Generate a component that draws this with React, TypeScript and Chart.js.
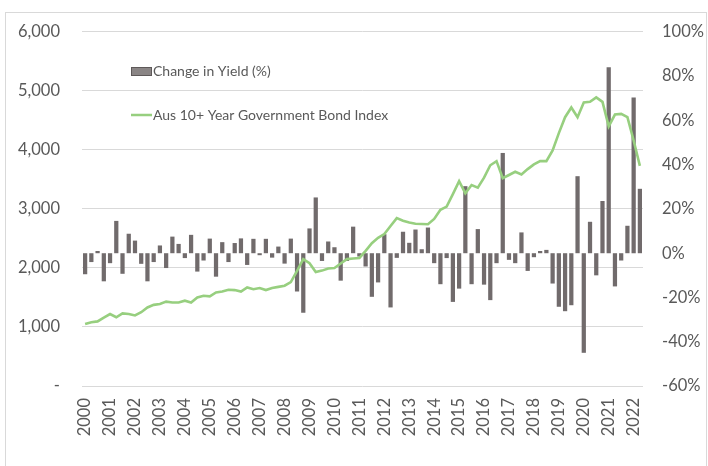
import React, { useEffect, useRef } from "react";
import { Chart, registerables } from "chart.js";

Chart.register(...registerables);

const years = [
  "2000", "2001", "2002", "2003", "2004", "2005", "2006", "2007", "2008", "2009", "2010", "2011",
  "2012", "2013", "2014", "2015", "2016", "2017", "2018", "2019", "2020", "2021", "2022",
];
const quarters = ["Q1", "Q2", "Q3", "Q4"];
const categories = years.flatMap((y) => quarters.map((q) => `${y} ${q}`)).slice(0, 90);

// Change in Yield (%), quarterly
const yieldChange = [
  -9.5, -4, 1, -12.7, -4.5, 14.6, -9.3, 8.8, 5.7, -4.8, -12.7, -4,
  3.5, -6.7, 7.5, 4.2, -2.2, 8.3, -8.3, -3.3, 6.6, -10.6, 5, -4,
  4.6, 6.7, -5.3, 6.5, -0.9, 6.5, -2, 3, -4.7, 6.6, -17.3, -26.9,
  11.2, 25.2, -3.5, 5.3, 2.7, -12.4, -3.5, 12, -1.5, -6, -19.7, -13.2,
  8.6, -24.5, -2.1, 9.7, 4.7, 10.7, 1.8, 11.6, -4.5, -14, -2.2, -22,
  -16, 30.3, -14, 10.9, -14.2, -21.2, -4.5, 45.3, -3, -4.5, 9.4, -8,
  -1.8, 1, 1.5, -13.7, -24.2, -26.2, -23.5, 34.8, -45, 14.2, -10, 23.6,
  84, -15, -3.3, 12.4, 70.4, 29.1,
];

// Aus 10+ Year Government Bond Index, quarterly
const bondIndex = [
  1050, 1080, 1095, 1160, 1220, 1165, 1230, 1220, 1195, 1250, 1330, 1375,
  1390, 1430, 1415, 1415, 1445, 1415, 1500, 1530, 1520, 1585, 1600, 1630,
  1625, 1600, 1670, 1640, 1660, 1625, 1660, 1680, 1700, 1760, 1950, 2150,
  2080, 1930, 1955, 1990, 2000, 2075, 2150, 2160, 2170, 2290, 2420, 2510,
  2575, 2710, 2845, 2800, 2770, 2750, 2745, 2740, 2830, 2985, 3040, 3250,
  3470, 3265, 3405, 3360, 3530, 3740, 3810, 3520, 3575, 3630, 3585, 3675,
  3755, 3810, 3810, 3990, 4285, 4555, 4720, 4555, 4805, 4815, 4890, 4815,
  4400, 4600, 4610, 4555, 4160, 3730,
];

const legendLabels = ["Change in Yield (%)", "Aus 10+ Year Government Bond Index"];

const BAR_COLOR = "#716b6c";
const LINE_COLOR = "#97cf7f";
const TEXT_COLOR = "#595959";
const GRID_COLOR = "#d9d9d9";
const FONT = "Lato";

const framePlugin = {
  id: "frameAndLegend",
  beforeDraw(chart: any) {
    const ctx = chart.ctx;
    ctx.save();
    ctx.fillStyle = "#ffffff";
    ctx.fillRect(0, 0, chart.width, chart.height);
    ctx.strokeStyle = GRID_COLOR;
    ctx.lineWidth = 1;
    ctx.strokeRect(5.5, 12.5, 701, 470);
    ctx.restore();
  },
  afterDraw(chart: any) {
    const ctx = chart.ctx;
    ctx.save();
    // bar swatch
    ctx.fillStyle = "#8a8585";
    ctx.strokeStyle = "#5e5959";
    ctx.lineWidth = 1;
    ctx.fillRect(131, 67, 21, 9);
    ctx.strokeRect(131.5, 67.5, 20, 8);
    // line swatch
    ctx.strokeStyle = LINE_COLOR;
    ctx.lineWidth = 2.5;
    ctx.beginPath();
    ctx.moveTo(131, 115);
    ctx.lineTo(152, 115);
    ctx.stroke();
    ctx.fillStyle = TEXT_COLOR;
    ctx.font = `14px ${FONT}`;
    ctx.textBaseline = "middle";
    ctx.textAlign = "left";
    ctx.fillText(legendLabels[0], 153, 71.5);
    ctx.fillText(legendLabels[1], 153, 115);
    ctx.restore();
  },
};

export default function App() {
  const canvasRef = useRef<HTMLCanvasElement | null>(null);

  useEffect(() => {
    document.body.style.margin = "0";
    const canvas = canvasRef.current;
    if (!canvas) return;
    const chart = new Chart(canvas, {
      type: "bar",
      data: {
        labels: categories,
        datasets: [
          {
            type: "line",
            label: legendLabels[1],
            data: bondIndex,
            yAxisID: "y",
            borderColor: LINE_COLOR,
            borderWidth: 2.6,
            pointRadius: 0,
            tension: 0,
            order: 0,
          } as any,
          {
            type: "bar",
            label: legendLabels[0],
            data: yieldChange,
            yAxisID: "y1",
            backgroundColor: BAR_COLOR,
            categoryPercentage: 1,
            barPercentage: 0.68,
            order: 1,
          },
        ],
      },
      options: {
        responsive: false,
        animation: false,
        layout: { padding: { top: 29, left: 0, right: 0, bottom: 0 } },
        plugins: {
          legend: { display: false },
          tooltip: { enabled: false },
        },
        scales: {
          x: {
            grid: { display: false, drawTicks: false, tickLength: 0 },
            border: { display: false },
            ticks: {
              autoSkip: false,
              minRotation: 90,
              maxRotation: 90,
              padding: 12,
              color: TEXT_COLOR,
              font: { family: FONT, size: 16.5 },
              callback: (_v: any, i: number) => (i % 4 === 0 ? categories[i].slice(0, 4) : ""),
            },
            afterFit: (s: any) => {
              s.height = 80;
            },
          },
          y: {
            position: "left",
            min: 0,
            max: 6000,
            grid: { color: GRID_COLOR, lineWidth: 1, drawTicks: false, tickLength: 0 },
            border: { display: false },
            ticks: {
              stepSize: 1000,
              padding: 22,
              color: TEXT_COLOR,
              font: { family: FONT, size: 16.5 },
              callback: (v: any) => (v === 0 ? "-" : Number(v).toLocaleString("en-US")),
            },
            afterFit: (s: any) => {
              s.width = 82;
            },
          },
          y1: {
            position: "right",
            min: -60,
            max: 100,
            grid: { display: false, drawTicks: false, tickLength: 0 },
            border: { display: false },
            ticks: {
              stepSize: 20,
              padding: 19,
              color: TEXT_COLOR,
              font: { family: FONT, size: 16.5 },
              callback: (v: any) => `${v}%`,
            },
            afterFit: (s: any) => {
              s.width = 65;
            },
          },
        },
      },
      plugins: [framePlugin],
    });
    return () => chart.destroy();
  }, []);

  return (
    <div style={{ position: "absolute", left: 0, top: 0, width: 708, height: 466 }}>
      <canvas ref={canvasRef} width={708} height={466} />
    </div>
  );
}
